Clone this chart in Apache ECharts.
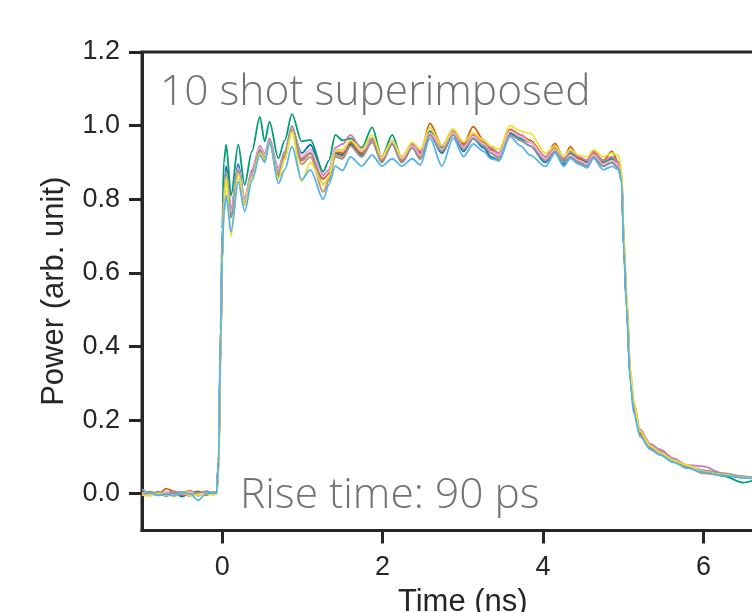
<!DOCTYPE html>
<html>
<head>
<meta charset="utf-8">
<script src="https://cdn.jsdelivr.net/npm/echarts@6/dist/echarts.min.js"></script>
<style>html,body{margin:0;padding:0;background:#fff;}#chart{width:752px;height:612px;}</style>
</head>
<body>
<div id="chart"></div>
<script>
// ---- data ----
var time = [-1.0,-0.9,-0.8,-0.7,-0.6,-0.5,-0.4,-0.3,-0.2,-0.1,
  -0.07,-0.045,-0.02,0.0,0.02,
  0.05,0.11,0.2,0.28,0.37,0.47,0.53,0.59,0.70,0.78,0.87,0.99,1.10,1.26,1.33,1.41,1.5,1.6,1.74,1.87,1.99,2.12,2.24,2.37,2.47,2.59,2.74,2.88,3.01,3.13,3.26,3.35,3.45,3.59,3.72,3.84,4.03,4.15,4.26,4.34,4.45,4.55,4.63,4.75,4.86,4.94,
  4.98,5.01,5.04,5.09,5.13,5.21,5.34,5.46,5.63,5.79,6.0,6.25,6.5,6.75,7.0];

var shot1 = [0.002,-0.004,0.003,-0.006,0.001,-0.008,0.004,-0.003,0.002,-0.002,
  0.003,0.09,0.41,0.65,0.81,
  0.89,0.77,0.895,0.80,0.875,0.935,0.915,0.955,0.88,0.925,0.99,0.925,0.948,0.865,0.875,0.925,0.92,0.95,0.92,0.955,0.905,0.95,0.9,0.94,0.91,0.975,0.925,0.975,0.93,0.965,0.94,0.915,0.905,0.98,0.96,0.945,0.9,0.93,0.895,0.915,0.9,0.89,0.915,0.89,0.9,0.885,
  0.85,0.66,0.52,0.31,0.235,0.16,0.125,0.11,0.088,0.072,0.06,0.052,0.044,0.04,0.036];
var shot2 = [-0.005,0.006,-0.002,0.004,-0.007,0.003,0.008,-0.004,0.005,0.001,
  0.0,0.07,0.39,0.63,0.79,
  0.865,0.765,0.88,0.795,0.87,0.935,0.92,0.96,0.87,0.915,0.995,0.905,0.925,0.855,0.87,0.935,0.93,0.955,0.93,0.96,0.91,0.955,0.91,0.945,0.925,0.985,0.94,0.985,0.95,0.975,0.955,0.935,0.925,0.985,0.97,0.955,0.915,0.94,0.91,0.925,0.91,0.905,0.925,0.905,0.915,0.9,
  0.86,0.67,0.53,0.32,0.24,0.17,0.13,0.115,0.09,0.078,0.058,0.05,0.046,0.041,0.037];
var shot3 = [0.001,-0.003,0.005,-0.002,0.003,-0.005,0.002,0.006,-0.003,0.004,
  0.002,0.09,0.45,0.72,0.9,
  0.948,0.81,0.948,0.839,0.93,1.024,0.957,1.011,0.911,0.96,1.031,0.957,0.961,0.875,0.905,0.975,0.96,0.965,0.94,0.995,0.915,0.975,0.91,0.95,0.93,0.985,0.94,0.98,0.945,0.97,0.95,0.935,0.92,0.985,0.965,0.955,0.91,0.935,0.905,0.925,0.91,0.9,0.92,0.9,0.91,0.9,
  0.86,0.66,0.52,0.31,0.24,0.165,0.128,0.115,0.09,0.07,0.062,0.048,0.03,0.042,0.035];
var shot4 = [0.004,0.002,-0.004,0.014,0.006,-0.002,-0.006,0.005,-0.003,0.002,
  0.001,0.08,0.4,0.64,0.8,
  0.87,0.755,0.875,0.79,0.865,0.93,0.91,0.955,0.865,0.915,0.995,0.91,0.925,0.855,0.87,0.93,0.925,0.955,0.925,0.965,0.905,0.955,0.905,0.945,0.925,1.006,0.945,0.99,0.95,0.997,0.96,0.935,0.925,0.99,0.975,0.96,0.915,0.952,0.91,0.943,0.91,0.905,0.93,0.905,0.93,0.9,
  0.86,0.67,0.53,0.32,0.245,0.165,0.13,0.112,0.095,0.075,0.062,0.05,0.045,0.04,0.036];
var shot5 = [-0.002,0.003,-0.005,0.002,0.006,-0.003,0.003,-0.006,0.007,0.002,
  0.0,0.08,0.4,0.63,0.79,
  0.86,0.77,0.885,0.8,0.88,0.945,0.925,0.965,0.885,0.93,0.995,0.915,0.935,0.865,0.88,0.94,0.95,0.975,0.935,0.965,0.915,0.96,0.915,0.95,0.93,0.98,0.945,0.98,0.945,0.975,0.96,0.94,0.925,0.985,0.975,0.955,0.915,0.945,0.91,0.93,0.915,0.905,0.93,0.905,0.915,0.9,
  0.87,0.68,0.54,0.33,0.25,0.175,0.135,0.12,0.096,0.078,0.074,0.055,0.046,0.04,0.038];
var shot6 = [0.0,0.004,-0.003,-0.005,0.003,0.005,-0.004,0.002,-0.002,0.003,
  0.0,0.08,0.4,0.64,0.8,
  0.87,0.75,0.875,0.785,0.86,0.93,0.905,0.955,0.86,0.91,0.985,0.895,0.915,0.82,0.85,0.92,0.915,0.945,0.915,0.955,0.9,0.95,0.9,0.94,0.915,0.975,0.93,0.975,0.94,0.97,0.95,0.925,0.915,0.985,0.97,0.955,0.905,0.935,0.9,0.92,0.905,0.895,0.92,0.895,0.905,0.89,
  0.85,0.66,0.52,0.31,0.235,0.16,0.125,0.11,0.09,0.073,0.055,0.05,0.044,0.04,0.035];
var shot7 = [0.003,-0.002,0.002,0.004,-0.004,0.002,0.005,-0.002,0.004,-0.001,
  0.001,0.08,0.41,0.65,0.81,
  0.875,0.765,0.885,0.795,0.87,0.94,0.92,0.96,0.88,0.925,0.995,0.915,0.935,0.86,0.875,0.935,0.93,0.96,0.93,0.96,0.91,0.955,0.91,0.945,0.92,0.98,0.935,0.98,0.94,0.97,0.95,0.93,0.92,0.985,0.97,0.955,0.91,0.935,0.9,0.92,0.905,0.895,0.92,0.895,0.905,0.89,
  0.87,0.68,0.54,0.33,0.25,0.17,0.13,0.115,0.093,0.077,0.062,0.051,0.045,0.041,0.037];
var shot8 = [-0.003,0.002,0.004,-0.002,0.002,0.004,-0.003,0.003,0.006,0.0,
  0.0,0.08,0.4,0.64,0.8,
  0.875,0.75,0.88,0.785,0.865,0.935,0.91,0.96,0.87,0.925,1.0,0.905,0.925,0.84,0.855,0.915,0.91,0.945,0.915,0.96,0.9,0.95,0.9,0.94,0.91,0.975,0.93,0.975,0.935,0.965,0.945,0.925,0.91,0.975,0.96,0.945,0.905,0.93,0.9,0.915,0.9,0.89,0.915,0.89,0.9,0.885,
  0.86,0.67,0.53,0.32,0.24,0.17,0.13,0.115,0.092,0.076,0.063,0.055,0.047,0.04,0.036];
var shot9 = [-0.004,-0.006,0.001,-0.003,-0.006,0.002,-0.005,-0.003,0.0,-0.004,
  0.0,0.07,0.38,0.62,0.78,
  0.86,0.70,0.87,0.785,0.86,0.925,0.91,0.957,0.855,0.91,0.984,0.848,0.9,0.84,0.86,0.93,0.935,0.96,0.935,0.975,0.915,0.96,0.915,0.955,0.935,0.995,0.945,0.99,0.955,0.98,0.96,0.945,0.935,1.0,0.985,0.979,0.925,0.945,0.915,0.935,0.92,0.915,0.935,0.915,0.925,0.92,
  0.88,0.7,0.55,0.34,0.25,0.17,0.13,0.112,0.09,0.078,0.06,0.052,0.044,0.04,0.037];
var shot10 = [0.012,0.002,-0.003,-0.002,-0.005,0.003,0.0,-0.018,0.0,0.002,
  0.002,0.09,0.42,0.64,0.76,
  0.81,0.712,0.848,0.767,0.85,0.92,0.90,0.957,0.843,0.88,0.943,0.853,0.88,0.80,0.84,0.89,0.878,0.915,0.89,0.92,0.89,0.91,0.89,0.91,0.893,0.966,0.89,0.966,0.916,0.95,0.93,0.91,0.905,0.97,0.945,0.92,0.889,0.925,0.889,0.911,0.895,0.885,0.911,0.88,0.889,0.88,
  0.85,0.66,0.51,0.3,0.22,0.155,0.12,0.105,0.085,0.07,0.058,0.05,0.043,0.039,0.035];

var shots = [shot1, shot2, shot3, shot4, shot5, shot6, shot7, shot8, shot9, shot10];
var colors = ['#0173B2','#DE8F05','#029E73','#D55E00','#CC78BC','#CA9161','#FBAFE4','#949494','#ECE133','#56B4E9'];
var yTicks = [0, 0.2, 0.4, 0.6, 0.8, 1.0, 1.2];
var xTicks = [0, 2, 4, 6];
var xName = 'Time (ns)';
var yName = 'Power (arb. unit)';
var note1 = '10 shot superimposed';
var note2 = 'Rise time: 90 ps';

// ---- chart ----
var chart = echarts.init(document.getElementById('chart'), null, {renderer: 'canvas'});
var axisColor = '#262626';
var series = shots.map(function (s, k) {
  return {
    type: 'line',
    data: time.map(function (t, i) { return [t, s[i]]; }),
    showSymbol: false,
    smooth: 0.3,
    smoothMonotone: 'x',
    lineStyle: {color: colors[k], width: 1.8},
    itemStyle: {color: colors[k]},
    animation: false
  };
});
chart.setOption({
  animation: false,
  grid: {left: 142, top: 52, width: 641.6, height: 478.5, outerBoundsMode: 'none', containLabel: false,
    show: true, borderColor: axisColor, borderWidth: 3, backgroundColor: 'transparent'},
  xAxis: {
    type: 'value', min: -1, max: 7,
    name: xName, nameLocation: 'middle', nameGap: 56,
    nameTextStyle: {fontFamily: 'Liberation Sans', fontSize: 31, color: axisColor},
    splitLine: {show: false},
    axisLine: {show: true, onZero: false, lineStyle: {color: axisColor, width: 3}},
    axisTick: {show: true, length: 13, lineStyle: {color: axisColor, width: 3}, customValues: xTicks},
    axisLabel: {fontFamily: 'Liberation Sans', fontSize: 27, color: axisColor, margin: 24, customValues: xTicks,
      formatter: function (v) { return String(v); }}
  },
  yAxis: {
    type: 'value', min: -0.1, max: 1.2,
    name: yName, nameLocation: 'middle', nameGap: 72, nameRotate: 90,
    nameTextStyle: {fontFamily: 'Liberation Sans', fontSize: 31, color: axisColor},
    splitLine: {show: false},
    axisLine: {show: true, onZero: false, lineStyle: {color: axisColor, width: 3}},
    axisTick: {show: true, length: 13, lineStyle: {color: axisColor, width: 3}, customValues: yTicks},
    axisLabel: {fontFamily: 'Liberation Sans', fontSize: 27, color: axisColor, margin: 22, customValues: yTicks,
      formatter: function (v) { return v.toFixed(1); }}
  },
  graphic: [
    {type: 'text', left: 160, top: 71, style: {text: note1, font: '300 42.5px "Open Sans"', fill: '#737373'}},
    {type: 'text', left: 240, top: 474, style: {text: note2, font: '300 42.5px "Open Sans"', fill: '#737373'}}
  ],
  series: series
});
</script>
</body>
</html>
